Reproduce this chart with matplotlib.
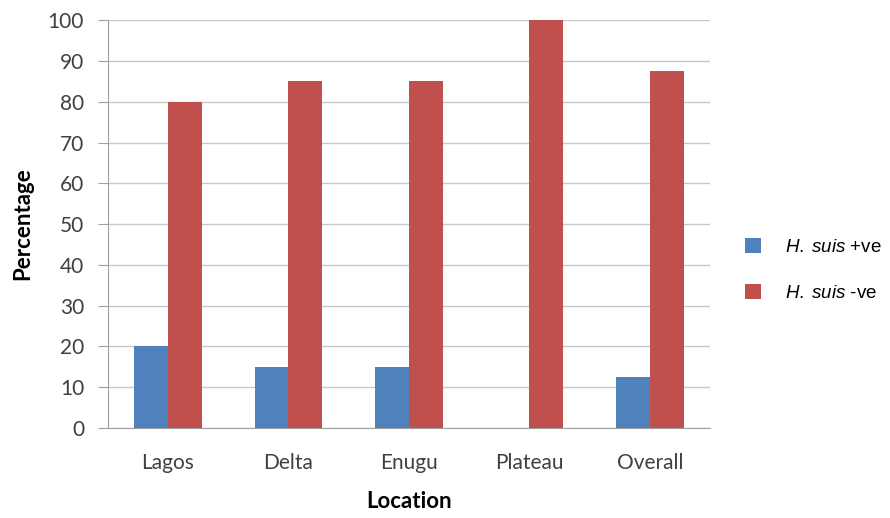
import matplotlib
matplotlib.use("Agg")
import matplotlib.pyplot as plt
import numpy as np

LOCATIONS = ["Lagos", "Delta", "Enugu", "Plateau", "Overall"]
POSITIVE = [20, 15, 15, 0, 12.5]
NEGATIVE = [80, 85, 85, 100, 87.5]
YTICKS = [0, 10, 20, 30, 40, 50, 60, 70, 80, 90, 100]

BLUE, RED = "#4f81bd", "#c0504d"

plt.rcParams["font.family"] = ["Lato", "DejaVu Sans"]
plt.rcParams["mathtext.fontset"] = "custom"
plt.rcParams["mathtext.it"] = "Liberation Sans:italic"
plt.rcParams["mathtext.rm"] = "Liberation Sans"

fig = plt.figure(figsize=(8.9, 5.18), dpi=100)
ax = fig.add_axes([0.121, 0.174, 0.677, 0.787])

x = np.arange(len(LOCATIONS))
w = 0.28
ax.bar(x - w / 2, POSITIVE, w, color=BLUE, label=r"$\it{H.\;suis}$ +ve", zorder=3)
ax.bar(x + w / 2, NEGATIVE, w, color=RED, label=r"$\it{H.\;suis}$ -ve", zorder=3)

ax.set_xlim(-0.5, len(LOCATIONS) - 0.5)
ax.set_ylim(0, 100)
ax.set_yticks(YTICKS)
ax.set_xticks(x)
ax.set_xticklabels(LOCATIONS)
ax.tick_params(axis="y", labelsize=15, length=7, color="#a0a0a0", pad=10)
ax.tick_params(axis="x", labelsize=15, length=0, pad=18)
for lab in ax.get_yticklabels() + ax.get_xticklabels():
    lab.set_color("#404040")
ax.grid(axis="y", color="#c8c8c8", lw=1, zorder=0)
for s in ["top", "right"]:
    ax.spines[s].set_visible(False)
ax.spines["left"].set_color("#a0a0a0")
ax.spines["bottom"].set_color("#a0a0a0")

ax.set_ylabel("Percentage", fontsize=16, fontweight="bold", va="center")
ax.yaxis.set_label_coords(-0.141, 0.5)
ax.set_xlabel("Location", fontsize=16, fontweight="bold", va="center")
ax.xaxis.set_label_coords(0.5, -0.181)

fig.legend(loc="center left", bbox_to_anchor=(0.818, 0.479), frameon=False,
           prop={"family": "Liberation Sans", "size": 13.5},
           handlelength=0.85, handleheight=0.85, labelspacing=1.5,
           handletextpad=1.3)

fig.savefig("out.png", dpi=100)
